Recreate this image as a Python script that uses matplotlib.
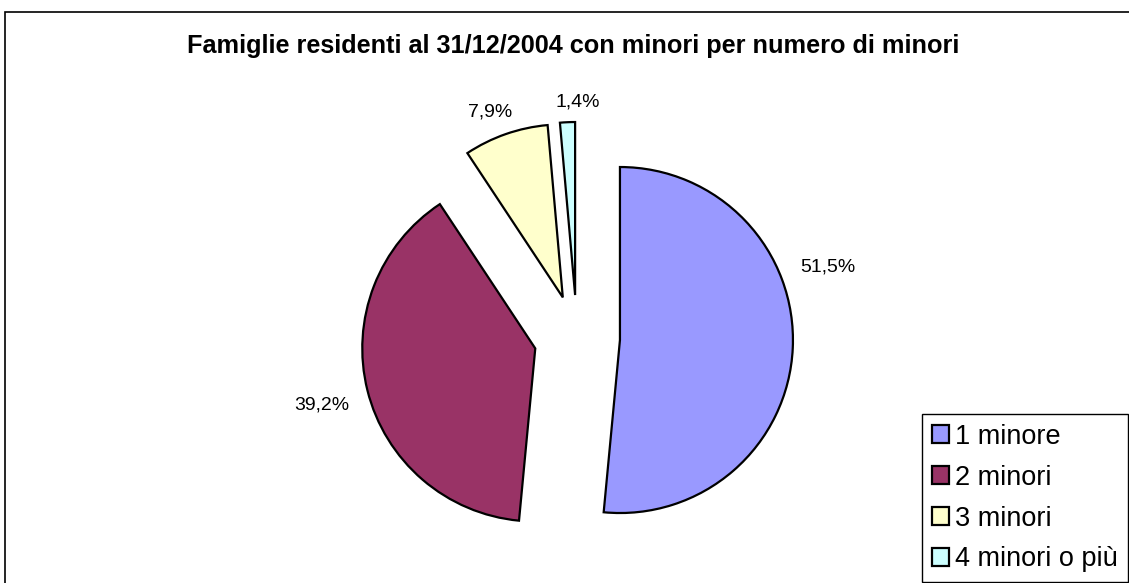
import matplotlib.pyplot as plt
from matplotlib.patches import Rectangle

plt.rcParams['font.family'] = ['Liberation Sans', 'DejaVu Sans']

# data
categories = ["1 minore", "2 minori", "3 minori", "4 minori o più"]
shares = [51.5, 39.2, 7.9, 1.4]
colors = ["#9999FF", "#993366", "#FFFFCC", "#CCFFFF"]
title = "Famiglie residenti al 31/12/2004 con minori per numero di minori"

W, H = 1129, 583
fig = plt.figure(figsize=(W / 100, H / 100), dpi=100)
ax = fig.add_axes([0, 0, 1, 1])

# chart frame (cut off right / bottom like the original)
fig.patches.append(Rectangle((5 / W, -0.05), 1.1, 1 - 12 / H + 0.05,
                             transform=fig.transFigure, fill=False,
                             edgecolor='black', linewidth=1.2))

fig.text(573 / W, 1 - 46 / H, title, ha='center', va='center',
         fontsize=18.2, fontweight='bold')

labels = [f"{v:.1f}%".replace('.', ',') for v in shares]
# explode is in data units here (axes are in pixels)
wedges, texts = ax.pie(shares, colors=colors, startangle=90, counterclock=False,
                       explode=[43] * len(shares), radius=173,
                       center=(577, H - 338), labels=labels, labeldistance=1.2,
                       wedgeprops=dict(edgecolor='black', linewidth=1.6),
                       textprops=dict(fontsize=14))

# pie() resets the limits, so set them afterwards
ax.set_xlim(0, W)
ax.set_ylim(0, H)
ax.set_aspect('equal')
ax.axis('off')

# Excel "best fit" label placement
label_pos = [(828, 267), (322, 405), (490, 112), (578, 102)]
for t, (x, y) in zip(texts, label_pos):
    t.set_position((x, H - y))
    t.set_ha('center')
    t.set_va('center')

leg = fig.legend(wedges, categories, loc='upper left',
                 bbox_to_anchor=(922 / W, 1 - 414 / H), borderaxespad=0,
                 fontsize=19.5, frameon=True, fancybox=False,
                 handlelength=0.62, handleheight=0.62, handletextpad=0.25,
                 labelspacing=0.55, borderpad=0.36)
leg.get_frame().set_edgecolor('black')
leg.get_frame().set_linewidth(1.0)
leg.get_frame().set_facecolor('white')
leg.get_frame().set_alpha(1)

fig.savefig("out.png", dpi=100)
